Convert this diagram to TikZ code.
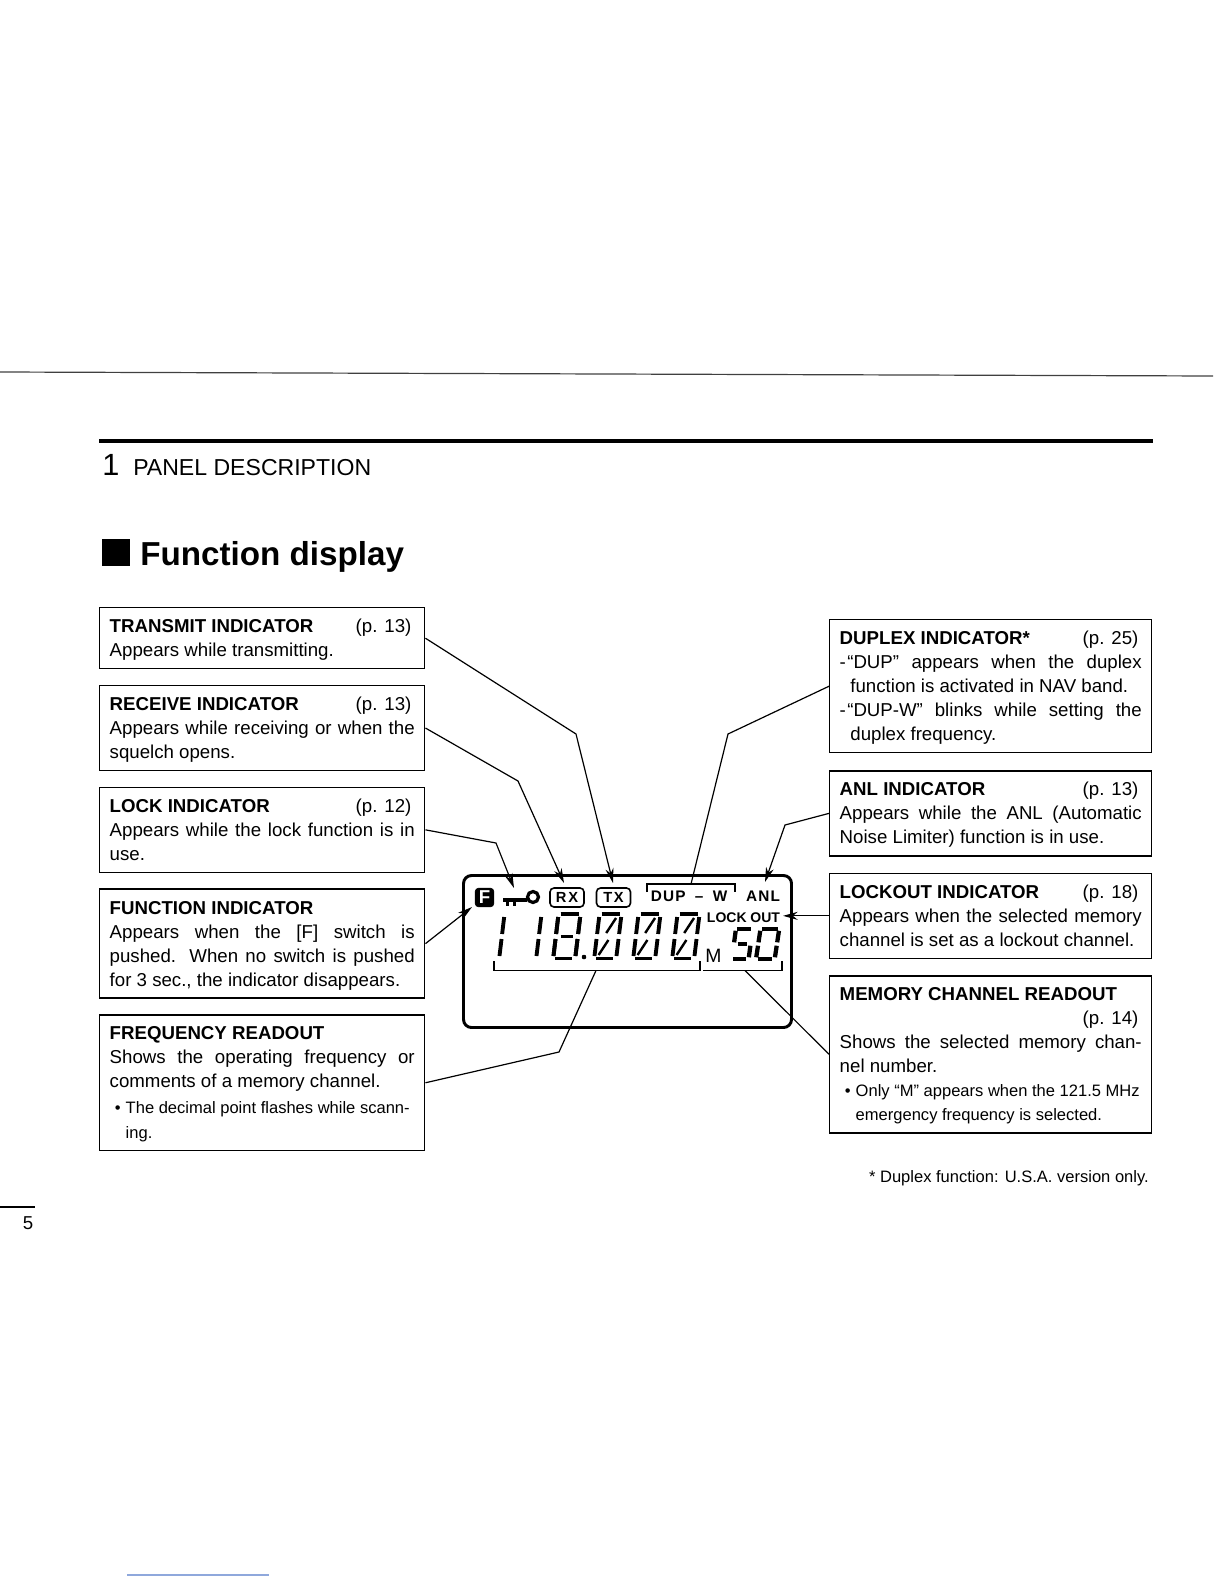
\documentclass[tikz,border=0pt]{standalone}
\usepackage{fontspec}
\setmainfont{Liberation Sans}
\usetikzlibrary{arrows.meta,positioning}
\definecolor{scanblue}{HTML}{8FA8DC}
% page reference at the end of a title line
\newcommand{\pg}[1]{\hfill (p. #1)\hspace*{2.5pt}}
% display segments
\def\sega{(3,-46)--(21,-46)}
\def\segb{(23,-43)--(23,-26)}
\def\segc{(23,-21)--(23,-4)}
\def\segd{(3,-1.5)--(20,-1.5)}
\def\sege{(1,-21)--(1,-4)}
\def\segf{(1,-43)--(1,-26)}
\def\segg{(6,-23.5)--(18,-23.5)}
\def\segh{(10,-27)--(18,-42)}
\def\segi{(5,-5)--(13,-20)}
\newcommand{\lcddigit}[5]{%
\begin{scope}[shift={(#1,#2)},xscale=#3,yscale=#4,xslant=.12]
\foreach \s in {#5}
\draw[lcdseg] \csname seg\s\endcsname;
\end{scope}}
\begin{document}
\begin{tikzpicture}[
x=.75pt,y=-.75pt,
node distance=11.5pt,
infobox/.style={draw,line width=1.1pt,text width=228.75pt,align=justify,
inner xsep=7.5pt,inner ysep=4.875pt,
font=\fontsize{14}{18}\selectfont,
execute at begin node={\rule{0pt}{13.8pt}},execute at end node={\rule[-4.2pt]{0pt}{4.2pt}}},
rightbox/.style={infobox,text width=226.5pt},
lcdframe/.style={draw,line width=2.2pt,rounded corners=6pt,minimum width=246pt,
minimum height=114pt,inner sep=0pt},
lcdseg/.style={line width=2.9pt},
tag/.style={font=\fontsize{11.5}{12}\bfseries\selectfont\addfontfeature{LetterSpace=8},
inner sep=0pt},
indbox/.style={draw,line width=1.2pt,rounded corners=3pt,minimum width=25.5pt,
minimum height=14.25pt,inner sep=0pt,
font=\fontsize{11}{12}\bfseries\selectfont\addfontfeature{LetterSpace=12}},
arr/.style={-{Stealth[length=11pt,width=6pt]},line width=.9pt},
lead/.style={line width=.9pt}
]
\useasboundingbox (0,0) rectangle (1224,1584);
% page furniture
\draw[line width=.9pt,black!75] (0,372) -- (1213,376);
\draw[line width=2.4pt] (99,441) -- (1153,441);
\draw[line width=1pt] (0,1207) -- (35,1207);
\draw[line width=.8pt,scanblue] (127,1575) -- (269,1575);
\node[anchor=base west,inner sep=0pt,font=\fontsize{23}{28}\selectfont] (chapter) at (102,475) {1};
\node[anchor=base west,inner sep=0pt,font=\fontsize{17.3}{20}\selectfont] (part) at (133,475) {PANEL DESCRIPTION};
\fill (102,539) rectangle (130,566);
\node[anchor=base west,inner sep=0pt,font=\fontsize{24.9}{28}\bfseries\selectfont] (heading) at (140,565) {Function display};
\node[inner sep=0pt,font=\fontsize{14}{16}\selectfont] (pageno) at (28,1223) {5};
\node[anchor=base east,inner sep=0pt,font=\fontsize{12.4}{16}\selectfont] (note) at (1149,1182) {* Duplex function: U.S.A. version only.};
% left column
\node[infobox,anchor=north west] (transmit) at (99,607) {\textbf{TRANSMIT INDICATOR}\pg{13}\\
Appears while transmitting.};
\node[infobox,below=of transmit] (receive) {\textbf{RECEIVE INDICATOR}\pg{13}\\
Appears while receiving or when the\linebreak squelch opens.};
\node[infobox,below=of receive] (lock) {\textbf{LOCK INDICATOR}\pg{12}\\
Appears while the lock function is in\linebreak use.};
\node[infobox,below=of lock] (function) {\textbf{FUNCTION INDICATOR}\\
Appears when the [F] switch is\linebreak pushed. When no switch is pushed\linebreak for 3 sec., the indicator disappears.};
\node[infobox,below=of function] (frequency) {\textbf{FREQUENCY READOUT}\\
Shows the operating frequency or\linebreak comments of a memory channel.\\[1pt]
{\fontsize{12.4}{18}\selectfont\makebox[12pt][c]{\textbullet}The decimal point flashes while scann-\\[1pt]
\hspace*{12pt}ing.}};
% right column
\node[rightbox,anchor=north west] (duplex) at (829,619) {\textbf{DUPLEX INDICATOR*}\pg{25}\\
-\hspace{1pt}“DUP” appears when the duplex\linebreak
\hspace*{8pt}function is activated in NAV band.\\
-\hspace{1pt}“DUP-W” blinks while setting the\linebreak
\hspace*{8pt}duplex frequency.};
\node[rightbox,below=12.5pt of duplex] (anl) {\textbf{ANL INDICATOR}\pg{13}\\
Appears while the ANL (Automatic\linebreak Noise Limiter) function is in use.};
\node[rightbox,below=12pt of anl] (lockout) {\textbf{LOCKOUT INDICATOR}\pg{18}\\
Appears when the selected memory\linebreak channel is set as a lockout channel.};
\node[rightbox,below=12pt of lockout] (memory) {\textbf{MEMORY CHANNEL READOUT}\\
\mbox{}\pg{14}\\
Shows the selected memory chan-\linebreak nel number.\\
{\fontsize{12.4}{18}\selectfont\makebox[12pt][c]{\textbullet}Only “M” appears when the 121.5 MHz\\
\hspace*{12pt}emergency frequency is selected.}};
% display
\node[lcdframe] (display) at (627.5,951.5) {};
\node[draw,fill=black,rounded corners=2.5pt,minimum width=14pt,minimum height=14pt,inner sep=0pt,
text=white,font=\fontsize{14}{14}\bfseries\selectfont] (fkey) at (484.5,897.5) {F};
\draw[line width=2.4pt] (533,897) circle (5.5);
\draw[line width=3pt] (503,900) -- (527,900);
\draw[line width=2.2pt] (507.5,900) -- (507.5,906) (514.5,900) -- (514.5,906);
\node[indbox] (rx) at (567,897.5) {RX};
\node[indbox] (tx) at (613.5,897.5) {TX};
\node[tag] (dup) at (689,896) {DUP\hspace{7pt}–\hspace{7pt}W};
\node[tag] (anltag) at (763,896) {ANL};
\node[tag,font=\fontsize{10.5}{12}\bfseries\selectfont] (locktag) at (743.5,918) {LOCK OUT};
\node[inner sep=0pt,font=\fontsize{14.5}{15}\selectfont] (mtag) at (713.5,956) {M};
\draw[line width=1.1pt] (647,892) -- (647,884) -- (735,884) -- (735,892);
\draw[line width=1.1pt] (494,961) -- (494,970.5) -- (700,970.5) -- (700,961);
\draw[line width=1.1pt] (703,970.5) -- (782,970.5) -- (782,961);
\foreach \x in {476,513}
\lcddigit{\x}{960}{1}{1}{b,c}
\lcddigit{552}{960}{1}{1}{a,b,c,d,e,f,g}
\fill (584,957) circle (2.2);
\foreach \x in {593,632,671}{
\lcddigit{\x}{960}{1}{1}{a,b,c,d,e,f}
\begin{scope}[shift={(\x,960)},xslant=.12]
\draw[line width=1.8pt] \segh;
\draw[line width=1.8pt] \segi;
\end{scope}}
\begin{scope}[lcdseg/.append style={line width=3.2pt}]
\lcddigit{731}{960}{.76}{.68}{a,f,g,c,d}
\lcddigit{755}{960}{.85}{.68}{a,b,c,d,e,f}
\end{scope}
% end points of the leaders
\coordinate (txtip) at (613,883);
\coordinate (rxtip) at (564,883);
\coordinate (locktip) at (514,888);
\coordinate (ftip) at (472,907);
\coordinate (dupend) at (691,884);
\coordinate (anltip) at (765,882);
\coordinate (lockouttip) at (783,917);
\coordinate (freqend) at (596,970.5);
\coordinate (memend) at (745,970.5);
\coordinate (txbend) at (576,734);
\coordinate (rxbend) at (518,781);
\coordinate (lockbend) at (496,843);
\coordinate (freqbend) at (559,1052);
\coordinate (dupbend) at (728,734);
\coordinate (anlbend) at (785,825);
% leaders
\foreach \a/\e/\b in {transmit/txbend/txtip,receive/rxbend/rxtip,lock/lockbend/locktip}
\draw[arr] (\a.east) -- (\e) -- (\b);
\draw[arr] (function.east) -- (ftip);
\draw[arr] (anl.west) -- (anlbend) -- (anltip);
\draw[arr] (lockout.west) -- (lockouttip |- lockout.west);
\draw[lead] (frequency.east) -- (freqbend) -- (freqend);
\draw[lead] (duplex.west) -- (dupbend) -- (dupend);
\draw[lead] (memory.west) -- (memend);
\end{tikzpicture}
\end{document}
